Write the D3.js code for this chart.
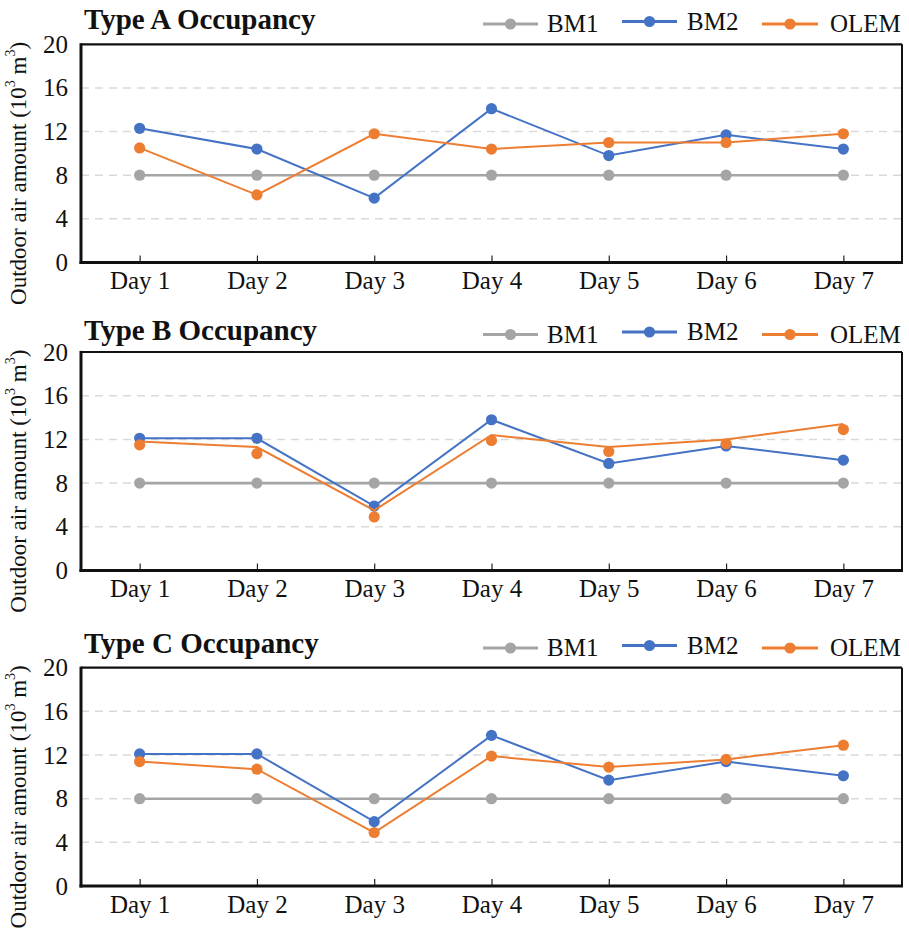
<!DOCTYPE html>
<html>
<head>
<meta charset="utf-8">
<script src="https://cdn.jsdelivr.net/npm/d3@7"></script>
<style>
  html, body { margin: 0; padding: 0; background: #fff; }
</style>
</head>
<body>
<script>
// ---- data ----
const days = ["Day 1", "Day 2", "Day 3", "Day 4", "Day 5", "Day 6", "Day 7"];
const yTicks = [0, 4, 8, 12, 16, 20];
const seriesNames = ["BM1", "BM2", "OLEM"];
const panelTitles = ["Type A Occupancy", "Type B Occupancy", "Type C Occupancy"];

const bm1A  = [8, 8, 8, 8, 8, 8, 8];
const bm2A  = [12.3, 10.4, 5.9, 14.1, 9.8, 11.7, 10.4];
const olemA = [10.5, 6.2, 11.8, 10.4, 11.0, 11.0, 11.8];

const bm1B  = [8, 8, 8, 8, 8, 8, 8];
const bm2B  = [12.1, 12.1, 5.9, 13.8, 9.8, 11.4, 10.1];
const olemLineB  = [11.8, 11.3, 5.5, 12.4, 11.3, 12.0, 13.4];
const olemMarksB = [11.5, 10.7, 4.9, 11.9, 10.9, 11.6, 12.9];

const bm1C  = [8, 8, 8, 8, 8, 8, 8];
const bm2C  = [12.1, 12.1, 5.9, 13.8, 9.7, 11.4, 10.1];
const olemC = [11.4, 10.7, 4.9, 11.9, 10.9, 11.6, 12.9];

// ---- styling / layout ----
const FONT = "'Liberation Serif', 'Times New Roman', Tinos, serif";
const colors = { BM1: "#A5A5A5", BM2: "#4472C4", OLEM: "#ED7D31" };
const W = 909, H = 929;
const plotLeft = 81, plotRight = 902;

const panels = [
  { title: panelTitles[0], top: 44.3, bottom: 262.5, titleY: 29,
    series: [
      { name: "BM1", line: bm1A, marks: bm1A },
      { name: "BM2", line: bm2A, marks: bm2A },
      { name: "OLEM", line: olemA, marks: olemA }
    ] },
  { title: panelTitles[1], top: 352, bottom: 570.5, titleY: 339.5,
    series: [
      { name: "BM1", line: bm1B, marks: bm1B },
      { name: "BM2", line: bm2B, marks: bm2B },
      { name: "OLEM", line: olemLineB, marks: olemMarksB }
    ] },
  { title: panelTitles[2], top: 667.7, bottom: 886, titleY: 653,
    series: [
      { name: "BM1", line: bm1C, marks: bm1C },
      { name: "BM2", line: bm2C, marks: bm2C },
      { name: "OLEM", line: olemC, marks: olemC }
    ] }
];

// legend item geometry (line start, line end, text start, vertical nudge)
const legendLayout = [
  { x0: 483, x1: 538, tx: 547, dy: 0 },
  { x0: 622, x1: 677, tx: 687, dy: -2.5 },
  { x0: 762, x1: 818, tx: 830, dy: 0 }
];

const svg = d3.select("body").append("svg")
  .attr("width", W).attr("height", H)
  .style("display", "block")
  .style("font-family", FONT);

const x = d3.scalePoint().domain(days).range([plotLeft, plotRight]).padding(0.5);

panels.forEach(p => {
  const y = d3.scaleLinear().domain([0, 20]).range([p.bottom, p.top]);
  const g = svg.append("g");

  // dashed horizontal gridlines
  g.append("g").selectAll("line")
    .data(yTicks.filter(t => t > 0 && t < 20))
    .join("line")
    .attr("x1", plotLeft).attr("x2", plotRight)
    .attr("y1", d => y(d)).attr("y2", d => y(d))
    .attr("stroke", "#D9D9D9").attr("stroke-width", 1.5)
    .attr("stroke-dasharray", "8,6");

  // y axis labels
  const yAxis = g.append("g")
    .attr("transform", `translate(${plotLeft},0)`)
    .call(d3.axisLeft(y).tickValues(yTicks).tickSize(0).tickPadding(13));
  yAxis.select(".domain").remove();
  yAxis.selectAll("text")
    .style("font-family", FONT).style("font-size", "25px").attr("fill", "#111");

  // x axis with short inward ticks
  const xAxis = g.append("g")
    .attr("transform", `translate(0,${p.bottom})`)
    .call(d3.axisBottom(x).tickSizeInner(-7).tickSizeOuter(0).tickPadding(9));
  xAxis.select(".domain").remove();
  xAxis.selectAll(".tick line").attr("stroke", "#222").attr("stroke-width", 1.2);
  xAxis.selectAll("text")
    .style("font-family", FONT).style("font-size", "25px").attr("fill", "#111");

  // plot frame
  g.append("line").attr("x1", plotLeft).attr("x2", plotRight)
    .attr("y1", p.top).attr("y2", p.top).attr("stroke", "#111").attr("stroke-width", 2.2);
  g.append("line").attr("x1", plotRight).attr("x2", plotRight)
    .attr("y1", p.top).attr("y2", p.bottom).attr("stroke", "#111").attr("stroke-width", 2);
  g.append("line").attr("x1", plotLeft).attr("x2", plotLeft)
    .attr("y1", p.top - 1.1).attr("y2", p.bottom + 1.5).attr("stroke", "#111").attr("stroke-width", 3);
  g.append("line").attr("x1", plotLeft - 1.5).attr("x2", plotRight + 1)
    .attr("y1", p.bottom).attr("y2", p.bottom).attr("stroke", "#111").attr("stroke-width", 3);

  // series lines and markers
  const lineGen = d3.line().x((d, i) => x(days[i])).y(d => y(d));
  p.series.forEach(s => {
    g.append("path")
      .datum(s.line)
      .attr("d", lineGen)
      .attr("fill", "none")
      .attr("stroke", colors[s.name])
      .attr("stroke-width", s.name === "BM1" ? 2.6 : 2);
    g.append("g").selectAll("circle")
      .data(s.marks)
      .join("circle")
      .attr("cx", (d, i) => x(days[i]))
      .attr("cy", d => y(d))
      .attr("r", 5.6)
      .attr("fill", colors[s.name]);
  });

  // y axis title
  const yLabel = g.append("text")
    .attr("transform", `translate(18,${(p.top + p.bottom) / 2 + 20}) rotate(-90)`)
    .attr("text-anchor", "middle")
    .attr("dominant-baseline", "central")
    .style("font-family", FONT).style("font-size", "23px").attr("fill", "#111");
  yLabel.append("tspan").text("Outdoor air amount (10");
  yLabel.append("tspan").text("3").style("font-size", "14px").attr("dy", -8);
  yLabel.append("tspan").text(" m").attr("dy", 8);
  yLabel.append("tspan").text("3").style("font-size", "14px").attr("dy", -8);
  yLabel.append("tspan").text(")").attr("dy", 8);

  // panel title
  g.append("text")
    .attr("x", 84).attr("y", p.titleY)
    .style("font-family", FONT).style("font-size", "29px").style("font-weight", "bold")
    .attr("fill", "#111")
    .text(p.title);

  // legend
  const legendBase = p.titleY - 5;
  seriesNames.forEach((name, i) => {
    const L = legendLayout[i];
    const ly = legendBase + L.dy;
    g.append("line")
      .attr("x1", L.x0).attr("x2", L.x1)
      .attr("y1", ly).attr("y2", ly)
      .attr("stroke", colors[name]).attr("stroke-width", 3);
    g.append("circle")
      .attr("cx", (L.x0 + L.x1) / 2).attr("cy", ly).attr("r", 5.6)
      .attr("fill", colors[name]);
    g.append("text")
      .attr("x", L.tx).attr("y", ly + 8)
      .style("font-family", FONT).style("font-size", "25px").attr("fill", "#111")
      .text(name);
  });
});
</script>
</body>
</html>
